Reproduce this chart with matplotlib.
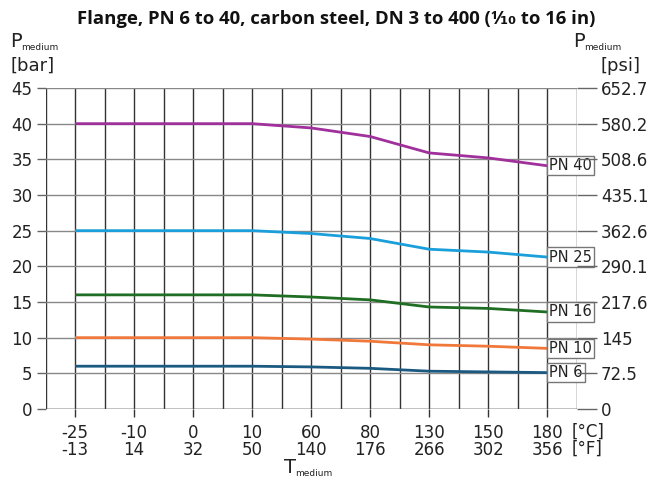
import numpy as np
import matplotlib.pyplot as plt

# data
temp_c = ["-25", "-10", "0", "10", "60", "80", "130", "150", "180"]
temp_f = ["-13", "14", "32", "50", "140", "176", "266", "302", "356"]
pn40 = [40, 40, 40, 40, 39.4, 38.2, 35.9, 35.2, 34.1]
pn25 = [25, 25, 25, 25, 24.6, 23.9, 22.4, 22.0, 21.3]
pn16 = [16, 16, 16, 16, 15.7, 15.3, 14.3, 14.1, 13.6]
pn10 = [10, 10, 10, 10, 9.8, 9.5, 9.0, 8.8, 8.5]
pn6 = [6, 6, 6, 6, 5.9, 5.7, 5.3, 5.2, 5.1]
bar_ticks = [0, 5, 10, 15, 20, 25, 30, 35, 40, 45]
psi_labels = ["0", "72.5", "145", "217.6", "290.1", "362.6", "435.1", "508.6", "580.2", "652.7"]

series = [
    ("PN 40", pn40, "#a0309b"),
    ("PN 25", pn25, "#1a9fdb"),
    ("PN 16", pn16, "#1f6e23"),
    ("PN 10", pn10, "#f0783a"),
    ("PN 6", pn6, "#1b5a80"),
]

plt.rcParams["font.family"] = ["DejaVu Sans"]
fig = plt.figure(figsize=(6.49, 4.78), dpi=100)
ax = fig.add_axes([45.6 / 649, 1 - 409 / 478, 531 / 649, 321 / 478])

x = np.arange(len(temp_c))
for name, vals, col in series:
    ax.plot(x, vals, color=col, lw=2, zorder=3, solid_capstyle="butt")
    ax.text(x[-1] + 0.035, vals[-1], name, ha="left", va="center", fontsize=10.5,
            color="#222222", zorder=4, clip_on=False,
            bbox=dict(boxstyle="square,pad=0.15", fc="white", ec="#777777", lw=1))

ax.set_xlim(-0.5, 8.5)
ax.set_ylim(0, 45)
for s in ax.spines.values():
    s.set_visible(False)

ax.set_xticks(x)
ax.set_xticklabels([c + "\n" + f for c, f in zip(temp_c, temp_f)], fontsize=12,
                   linespacing=0.93, color="#222222")
ax.set_xticks(np.arange(-0.5, 8.6, 1.0), minor=True)
ax.tick_params(axis="x", which="major", direction="out", length=6, width=1,
               color="#333333", pad=5)
ax.tick_params(axis="x", which="minor", length=0)
ax.grid(axis="x", which="both", color="#333333", lw=1, zorder=1)

ax.set_yticks(bar_ticks)
ax.set_yticklabels([str(v) for v in bar_ticks], fontsize=12, color="#222222")
ax.tick_params(axis="y", direction="out", length=6.5, width=1, color="#666666", pad=3)
ax.grid(axis="y", color="#888888", lw=1, zorder=1)
ax.axhline(0, color="#333333", lw=1, zorder=2)

ax2 = ax.twinx()
ax2.set_ylim(0, 45)
for s in ax2.spines.values():
    s.set_visible(False)
ax2.set_yticks(bar_ticks)
ax2.set_yticklabels(psi_labels, fontsize=12, color="#222222")
ax2.tick_params(axis="y", direction="out", length=14.5, width=1, color="#666666", pad=3)

# unit marks after the last tick label
ax.text(8.41, -0.0966, "[°C]\n[°F]", transform=ax.get_xaxis_transform(), ha="left",
        va="center", fontsize=12, linespacing=0.93, color="#222222")

# axis titles
def sub_label(xp, yp, main, sub):
    fig.text(xp / 649, 1 - yp / 478, main, fontsize=14, color="#222222",
             ha="left", va="baseline")
    fig.text((xp + 11) / 649, 1 - (yp + 3) / 478, sub, fontsize=6.5,
             color="#222222", ha="left", va="baseline")

sub_label(10, 47, "P", "medium")
fig.text(10 / 649, 1 - 71 / 478, "[bar]", fontsize=13, color="#222222")
sub_label(573, 47, "P", "medium")
fig.text(600 / 649, 1 - 71 / 478, "[psi]", fontsize=13, color="#222222")
sub_label(284, 473, "T", "medium")

fig.text(336.5 / 649, 1 - 19 / 478, "Flange, PN 6 to 40, carbon steel, DN 3 to 400 (¹⁄₁₀ to 16 in)",
         ha="center", va="center", fontsize=13.3, fontweight="bold",
         family=["Open Sans", "DejaVu Sans"], color="#111111")

fig.savefig("out.png", dpi=100)
